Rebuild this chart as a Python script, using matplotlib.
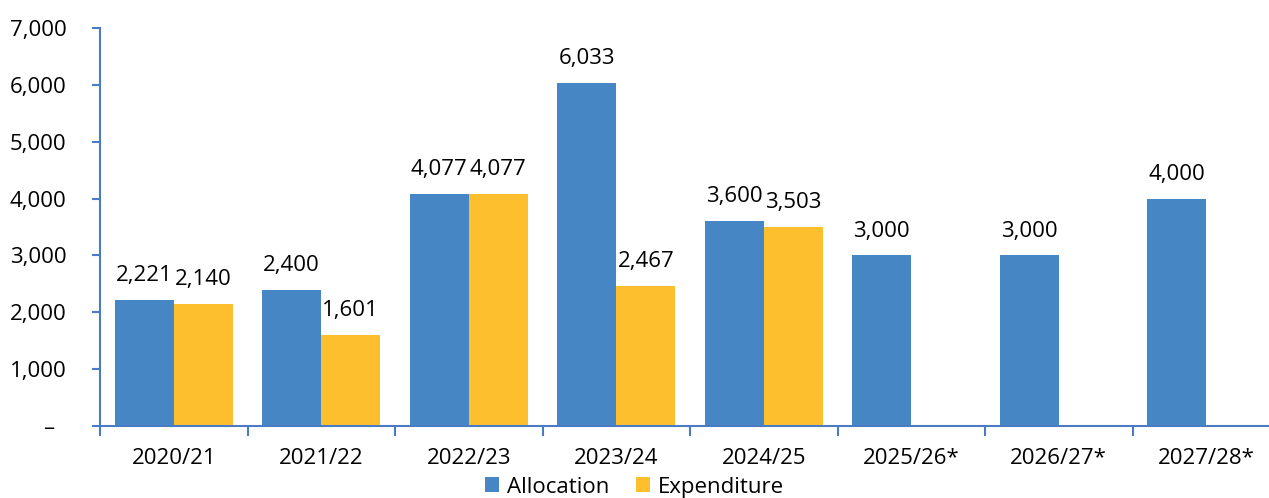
import matplotlib
matplotlib.use('Agg')
import matplotlib.pyplot as plt
import numpy as np

categories = ['2020/21', '2021/22', '2022/23', '2023/24', '2024/25',
              '2025/26*', '2026/27*', '2027/28*']
allocation = [2221, 2400, 4077, 6033, 3600, 3000, 3000, 4000]
expenditure = [2140, 1601, 4077, 2467, 3503, None, None, None]

blue = '#4786C5'
yellow = '#FDBF2E'
spine_col = '#4A7CC4'

plt.rcParams['font.family'] = ['Open Sans', 'DejaVu Sans']
plt.rcParams['font.size'] = 16


def main():
    fig = plt.figure(figsize=(12.69, 4.98), dpi=100)
    ax = fig.add_axes([100 / 1269, 72 / 498, 1180 / 1269, 398 / 498])

    x = np.arange(len(categories))
    w = 0.4
    exp_vals = [v if v is not None else 0 for v in expenditure]
    b1 = ax.bar(x - w / 2, allocation, w, color=blue, label='Allocation')
    b2 = ax.bar(x + w / 2, exp_vals, w, color=yellow, label='Expenditure')

    for rect, v in zip(b1, allocation):
        ax.annotate(f'{v:,}', (rect.get_x() + rect.get_width() / 2, v),
                    xytext=(0, 10), textcoords='offset points',
                    ha='center', va='bottom', fontsize=16)
    for rect, v in zip(b2, expenditure):
        if v is None:
            continue
        ax.annotate(f'{v:,}', (rect.get_x() + rect.get_width() / 2, v),
                    xytext=(0, 10), textcoords='offset points',
                    ha='center', va='bottom', fontsize=16)

    ax.set_xlim(-0.5, len(categories) - 0.5)
    ax.set_ylim(0, 7000)
    ax.set_yticks(range(0, 7001, 1000))
    ax.set_yticklabels(['–  '] + [f'{v:,}' for v in range(1000, 7001, 1000)])
    ax.set_xticks(x)
    ax.set_xticklabels(categories)
    ax.set_xticks(np.arange(-0.5, len(categories), 1), minor=True)
    ax.tick_params(axis='x', which='major', length=0, pad=16)
    ax.tick_params(axis='x', which='minor', length=7, color=spine_col, width=1.5)
    ax.tick_params(axis='y', length=6, color=spine_col, width=1.5, pad=18)

    for s in ['top', 'right']:
        ax.spines[s].set_visible(False)
    for s in ['left', 'bottom']:
        ax.spines[s].set_color(spine_col)
        ax.spines[s].set_linewidth(1.5)

    fig.legend(handles=[b1, b2], loc='center', bbox_to_anchor=(0.5, 11 / 498),
               ncol=2, frameon=False, fontsize=16, handlelength=0.65,
               handleheight=0.65, columnspacing=1.2, handletextpad=0.35)

    fig.savefig('out.png', dpi=100)
    plt.close(fig)


if __name__ == '__main__':
    main()
